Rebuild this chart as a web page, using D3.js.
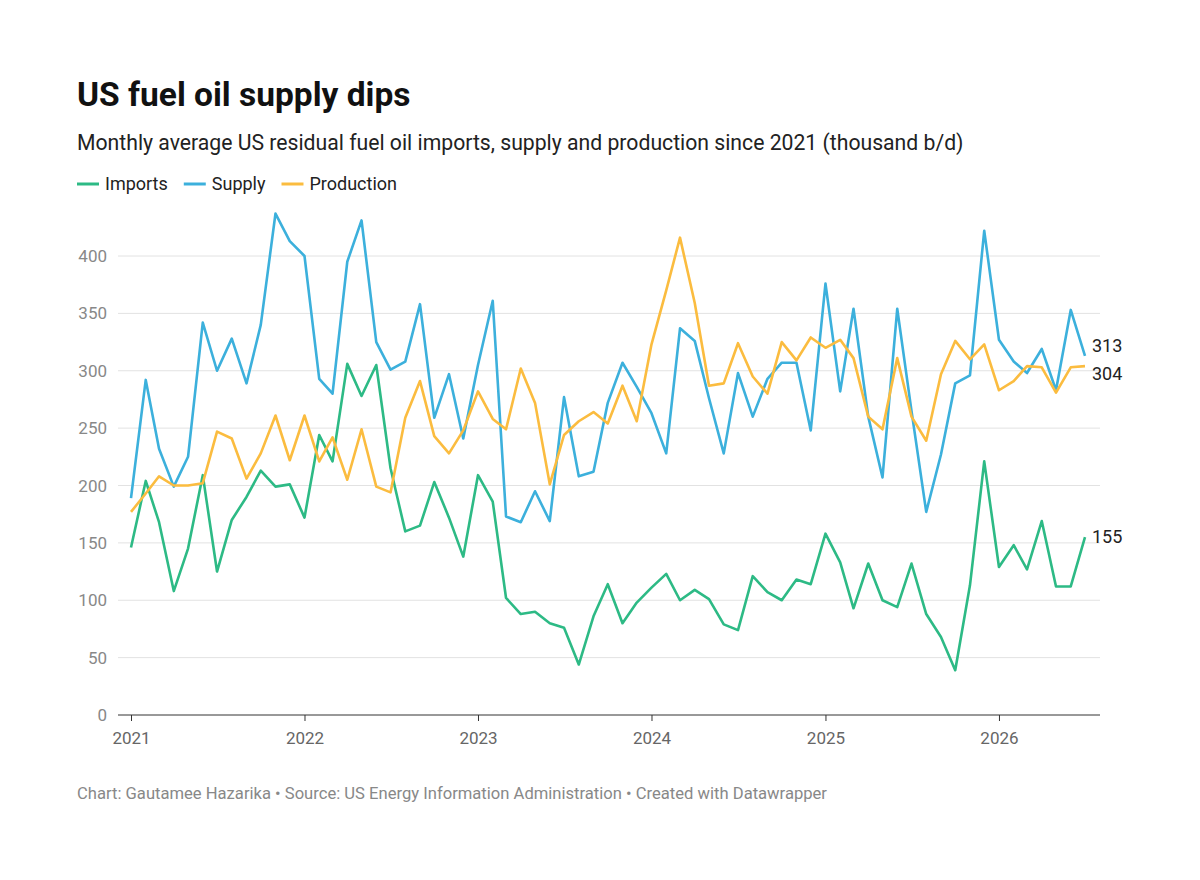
<!DOCTYPE html>
<meta charset="utf-8">
<html>
<head>
<script src="https://d3js.org/d3.v7.min.js"></script>
<style>
  body { margin: 0; background: #fff; font-family: Roboto, sans-serif; }
</style>
</head>
<body>
<div id="my_dataviz"></div>
<script>

// monthly values Jan 2021 - Jul 2026 (thousand b/d)
var startYear = 2021;
var imports = [146,204,168,108,145,209,125,170,190,213,199,201,
  172,244,221,306,278,305,215,160,165,203,172,138,
  209,186,102,88,90,80,76,44,86,114,80,98,
  111,123,100,109,101,79,74,121,107,100,118,114,
  158,133,93,132,100,94,132,88,68,39,113,221,
  129,148,127,169,112,112,155];
var supply = [189,292,232,199,225,342,300,328,289,340,437,413,
  400,293,280,395,431,325,301,308,358,259,297,241,
  305,361,173,168,195,169,277,208,212,272,307,286,
  263,228,337,326,276,228,298,260,293,307,307,248,
  376,282,354,260,207,354,265,177,227,289,296,422,
  327,308,298,319,283,353,313];
var production = [177,193,208,200,200,202,247,241,206,228,261,222,
  261,221,242,205,249,199,194,259,291,243,228,248,
  282,258,249,302,272,201,244,256,264,254,287,256,
  323,370,416,359,287,289,324,295,280,325,309,329,
  320,327,311,260,249,311,260,239,297,326,310,323,
  283,291,304,303,281,303,304];
var yTicks = [0,50,100,150,200,250,300,350,400];
var years = [2021,2022,2023,2024,2025,2026];

var series = [
  {name: "Imports", values: imports, color: "#2dba85"},
  {name: "Supply", values: supply, color: "#3cb0dc"},
  {name: "Production", values: production, color: "#fbbc3f"}
];

var W = 1200, H = 880;
var svg = d3.select("#my_dataviz").append("svg")
  .attr("width", W).attr("height", H);

svg.append("text").attr("x", 77).attr("y", 106)
  .attr("font-size", 33.5).attr("font-weight", 700).attr("fill", "#111")
  .text("US fuel oil supply dips");
svg.append("text").attr("x", 77).attr("y", 150)
  .attr("font-size", 21.2).attr("fill", "#222")
  .text("Monthly average US residual fuel oil imports, supply and production since 2021 (thousand b/d)");

// legend
var lx = 77;
series.forEach(function(s) {
  svg.append("line").attr("x1", lx).attr("x2", lx + 22).attr("y1", 184).attr("y2", 184)
    .attr("stroke", s.color).attr("stroke-width", 3);
  var t = svg.append("text").attr("x", lx + 28).attr("y", 190)
    .attr("font-size", 18).attr("fill", "#222").text(s.name);
  lx += 28 + t.node().getComputedTextLength() + 16;
});

function toDate(i) { return new Date(startYear, i, 1); }

var x = d3.scaleTime()
  .domain([new Date(2021, 0, 1), new Date(2026, 6, 1)])
  .range([131, 1085]);
var y = d3.scaleLinear().domain([0, 400]).range([715, 256]);

// grid
svg.append("g").selectAll("line").data(yTicks.filter(function(d){ return d > 0; }))
  .enter().append("line")
  .attr("x1", 118).attr("x2", 1100)
  .attr("y1", function(d){ return y(d); }).attr("y2", function(d){ return y(d); })
  .attr("stroke", "#e2e2e2").attr("stroke-width", 1);

svg.append("g").selectAll("text").data(yTicks).enter().append("text")
  .attr("x", 107).attr("y", function(d){ return y(d) + 6; })
  .attr("text-anchor", "end").attr("font-size", 17).attr("fill", "#888")
  .text(function(d){ return d; });

// x axis
var xAxis = svg.append("g").attr("transform", "translate(0,715)")
  .call(d3.axisBottom(x).tickValues(years.map(function(yr){ return new Date(yr, 0, 1); }))
    .tickFormat(d3.timeFormat("%Y")).tickSize(6).tickSizeOuter(0));
xAxis.select(".domain").attr("d", "M118,0H1100").attr("stroke", "#333");
xAxis.selectAll(".tick line").attr("stroke", "#333");
xAxis.selectAll(".tick text").attr("font-size", 17).attr("fill", "#666")
  .attr("font-family", "Roboto, sans-serif").attr("dy", "1.2em");

var line = d3.line()
  .x(function(d, i){ return x(toDate(i)); })
  .y(function(d){ return y(d); });

series.forEach(function(s) {
  svg.append("path").datum(s.values)
    .attr("d", line).attr("fill", "none")
    .attr("stroke", s.color).attr("stroke-width", 2.6)
    .attr("stroke-linejoin", "round");
  var last = s.values[s.values.length - 1];
  var ly = y(last) + 6;
  if (s.name === "Supply") ly -= 10;
  if (s.name === "Production") ly += 8;
  svg.append("text").attr("x", 1092).attr("y", ly)
    .attr("font-size", 18).attr("fill", "#222").text(last);
});

svg.append("text").attr("x", 77).attr("y", 799)
  .attr("font-size", 16.6).attr("fill", "#888")
  .text("Chart: Gautamee Hazarika • Source: US Energy Information Administration  • Created with Datawrapper");

</script>
</body>
</html>
